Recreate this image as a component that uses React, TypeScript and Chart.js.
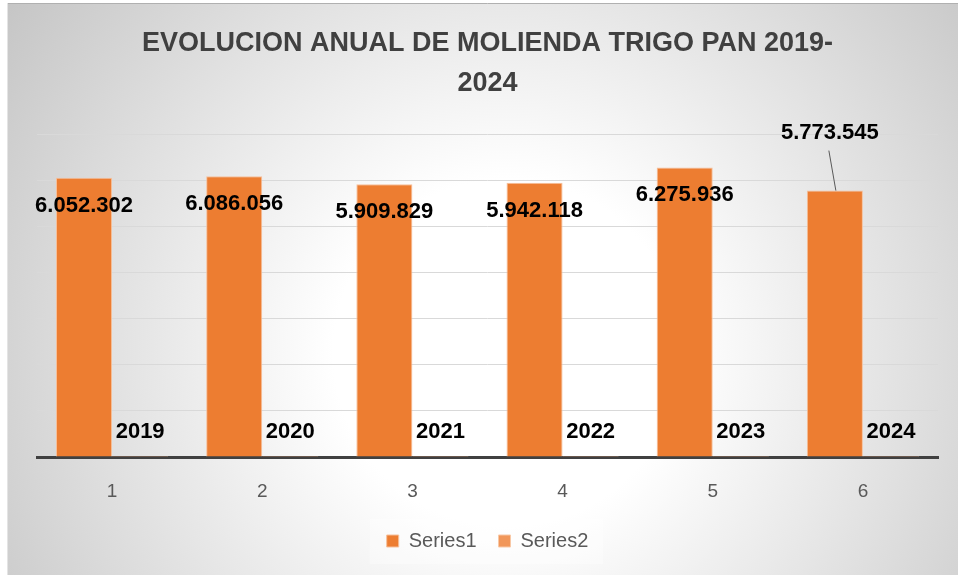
import React, { useEffect, useRef } from "react";
import { Chart, registerables } from "chart.js";

Chart.register(...registerables);

const categories = ["1", "2", "3", "4", "5", "6"];
const series1 = [6052302, 6086056, 5909829, 5942118, 6275936, 5773545];
const series2 = [2019, 2020, 2021, 2022, 2023, 2024];
const seriesNames = ["Series1", "Series2"];
const titleLines = ["EVOLUCION ANUAL DE MOLIENDA TRIGO PAN 2019-", "2024"];
const leaderIndex = 5;

const FONT = '"Liberation Sans", Arial, sans-serif';

const fmt = (v: number) => String(v).replace(/\B(?=(\d{3})+(?!\d))/g, ".");

const bgPlugin = {
  id: "bgPlugin",
  beforeDraw(chart: any) {
    const { ctx, width, height } = chart;
    ctx.save();
    const g = ctx.createRadialGradient(500, 350, 0, 500, 350, 620);
    g.addColorStop(0, "#ffffff");
    g.addColorStop(0.28, "#ffffff");
    g.addColorStop(1, "#c4c4c4");
    ctx.fillStyle = g;
    ctx.fillRect(0, 0, width, height);
    ctx.lineWidth = 1;
    ctx.strokeStyle = "#b0b0b0";
    ctx.beginPath();
    ctx.moveTo(0, 0.5);
    ctx.lineTo(width, 0.5);
    ctx.stroke();
    ctx.strokeStyle = "#e4e4e4";
    ctx.beginPath();
    ctx.moveTo(0.5, 0);
    ctx.lineTo(0.5, height);
    ctx.stroke();
    const lg = chart.legend;
    if (lg && lg.legendHitBoxes && lg.legendHitBoxes.length) {
      const hb = lg.legendHitBoxes;
      const first = hb[0];
      const last = hb[hb.length - 1];
      const l = first.left - 17;
      const r = last.left + last.width + 15;
      const cy = first.top + first.height / 2;
      ctx.fillStyle = "rgba(255,255,255,0.35)";
      ctx.fillRect(l, cy - 22, r - l, 45);
    }
    ctx.restore();
  },
};

const labelPlugin = {
  id: "labelPlugin",
  afterDatasetsDraw(chart: any) {
    const { ctx } = chart;
    const m0 = chart.getDatasetMeta(0);
    const m1 = chart.getDatasetMeta(1);
    const base = chart.scales.y.getPixelForValue(0);
    ctx.save();
    ctx.font = `bold 22px ${FONT}`;
    ctx.fillStyle = "#000000";
    ctx.textAlign = "center";
    ctx.textBaseline = "middle";
    m0.data.forEach((bar: any, i: number) => {
      const text = fmt(series1[i]);
      if (i === leaderIndex) {
        ctx.fillText(text, bar.x - 5, bar.y - 58);
        ctx.strokeStyle = "#595959";
        ctx.lineWidth = 1;
        ctx.beginPath();
        ctx.moveTo(bar.x - 6, bar.y - 40);
        ctx.lineTo(bar.x + 1, bar.y);
        ctx.stroke();
      } else {
        ctx.fillText(text, bar.x, bar.y + 28);
      }
    });
    m1.data.forEach((bar: any, i: number) => {
      ctx.fillText(String(series2[i]), bar.x, base - 25);
    });
    ctx.restore();
  },
};

export default function App() {
  const ref = useRef<HTMLCanvasElement | null>(null);

  useEffect(() => {
    if (!ref.current) return;
    const chart = new Chart(ref.current, {
      type: "bar",
      data: {
        labels: categories,
        datasets: [
          {
            label: seriesNames[0],
            data: series1,
            backgroundColor: "#ED7D31",
            borderColor: "#F6C09B",
            borderWidth: 1,
          },
          {
            label: seriesNames[1],
            data: series2,
            backgroundColor: "#F1975A",
            borderColor: "#F8C8A6",
            borderWidth: 1,
          },
        ],
      },
      options: {
        responsive: false,
        animation: false,
        devicePixelRatio: 1,
        layout: { padding: { left: 30, right: 30, top: 0, bottom: 22 } },
        datasets: { bar: { categoryPercentage: 0.747, barPercentage: 1 } },
        scales: {
          x: {
            z: 1,
            grid: { display: false, drawTicks: false },
            border: { display: true, color: "#404040", width: 3 },
            ticks: { color: "#595959", font: { family: FONT, size: 19 }, padding: 23 },
            afterFit: (scale: any) => {
              scale.height = 52;
            },
          },
          y: {
            min: 0,
            max: 7000000,
            ticks: { display: false, stepSize: 1000000 },
            grid: { color: "#d9d9d9", lineWidth: 1, drawTicks: false },
            border: { display: false },
          },
        },
        plugins: {
          title: {
            display: true,
            text: titleLines,
            color: "#404040",
            font: { family: FONT, size: 27, weight: "bold", lineHeight: 1.463 },
            padding: { top: 21, bottom: 31 },
          },
          legend: {
            display: true,
            position: "bottom",
            labels: {
              boxWidth: 12,
              boxHeight: 12,
              padding: 22,
              color: "#595959",
              font: { family: FONT, size: 20 },
            },
          },
          tooltip: { enabled: false },
        },
      },
      plugins: [bgPlugin, labelPlugin],
    } as any);
    return () => chart.destroy();
  }, []);

  return (
    <div style={{ position: "fixed", left: 0, top: 0, width: 958, height: 575, overflow: "hidden" }}>
      <canvas ref={ref} width={961} height={580} style={{ position: "absolute", left: 7, top: 3 }} />
    </div>
  );
}
